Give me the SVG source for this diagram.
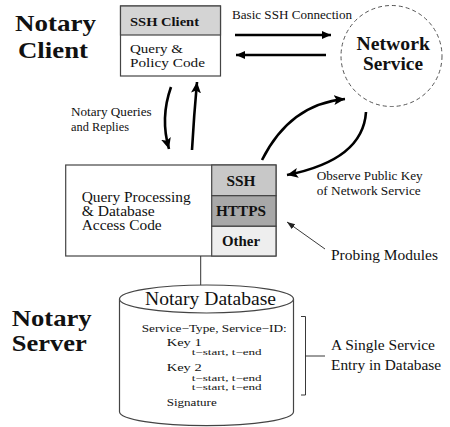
<svg xmlns="http://www.w3.org/2000/svg" width="450" height="427" viewBox="0 0 450 427">
<style>
text{font-family:"Liberation Serif","Times New Roman",serif;fill:#111}
.b{font-weight:bold}
.box{stroke:#444;stroke-width:1.2}
.arr{fill:none;stroke:#000;stroke-width:2.6}
.thin{fill:none;stroke:#222;stroke-width:0.9}
</style>
<defs>
<marker id="ah" markerUnits="userSpaceOnUse" markerWidth="14" markerHeight="12" refX="11" refY="5" orient="auto">
<path d="M0,0 L11,5 L0,10 L2.5,5 Z" fill="#000"/>
</marker>
<marker id="ahs" markerUnits="userSpaceOnUse" markerWidth="12" markerHeight="10" refX="9" refY="4" orient="auto">
<path d="M0,0 L9,4 L0,8 Z" fill="#000"/>
</marker>
<marker id="aht" markerUnits="userSpaceOnUse" markerWidth="10" markerHeight="8" refX="8" refY="3" orient="auto">
<path d="M0,0 L8,3 L0,6 Z" fill="#222"/>
</marker>
</defs>
<rect width="450" height="427" fill="#fff"/>

<g id="label-client">
<text class="b" x="15" y="31" font-size="24" textLength="81" lengthAdjust="spacingAndGlyphs">Notary</text>
<text class="b" x="18" y="58" font-size="24" textLength="70" lengthAdjust="spacingAndGlyphs">Client</text>
</g>

<g id="notary-client">
<rect class="box" x="120.5" y="6" width="100" height="70" fill="#fff"/>
<rect class="box" x="120.5" y="6" width="100" height="29" fill="#d4d4d4"/>
<text class="b" x="130" y="25.5" font-size="13.5" textLength="69" lengthAdjust="spacingAndGlyphs">SSH Client</text>
<text x="130" y="53" font-size="13" textLength="53" lengthAdjust="spacingAndGlyphs">Query &amp;</text>
<text x="130" y="66.5" font-size="13" textLength="75" lengthAdjust="spacingAndGlyphs">Policy Code</text>
</g>

<g id="network-service">
<circle cx="391.5" cy="56" r="50.5" fill="none" stroke="#555" stroke-width="1" stroke-dasharray="4,3"/>
<text class="b" x="356.5" y="50" font-size="18.5" textLength="73.5" lengthAdjust="spacingAndGlyphs">Network</text>
<text class="b" x="363" y="70" font-size="18.5" textLength="60" lengthAdjust="spacingAndGlyphs">Service</text>
</g>

<g id="query-processing">
<rect class="box" x="65.7" y="165" width="210.3" height="91" fill="#fff"/>
<rect class="box" x="211.7" y="165" width="64.3" height="30.7" fill="#c8c8c8"/>
<rect class="box" x="211.7" y="195.7" width="64.3" height="30.6" fill="#a8a8a8"/>
<rect class="box" x="211.7" y="226.3" width="64.3" height="29.7" fill="#eeeeee"/>
<text x="81.7" y="201.5" font-size="14" textLength="109" lengthAdjust="spacingAndGlyphs">Query Processing</text>
<text x="81.7" y="215.5" font-size="14" textLength="73" lengthAdjust="spacingAndGlyphs">&amp; Database</text>
<text x="81.7" y="230" font-size="14" textLength="80" lengthAdjust="spacingAndGlyphs">Access Code</text>
<text class="b" x="241" y="185.7" font-size="14" text-anchor="middle" textLength="29" lengthAdjust="spacingAndGlyphs">SSH</text>
<text class="b" x="241" y="216" font-size="14" text-anchor="middle" textLength="50" lengthAdjust="spacingAndGlyphs">HTTPS</text>
<text class="b" x="241" y="246" font-size="14" text-anchor="middle" textLength="38" lengthAdjust="spacingAndGlyphs">Other</text>
</g>

<g id="notary-database">
<path class="box" d="M119.5,299 V411.7 A87,14 0 0 0 293.5,411.7 V299" fill="#fff"/>
<ellipse class="box" cx="206.5" cy="299" rx="87" ry="14" fill="#fff"/>
<text x="145" y="305" font-size="18.5" textLength="131" lengthAdjust="spacingAndGlyphs">Notary Database</text>
<text x="141.7" y="331.5" font-size="11" textLength="145" lengthAdjust="spacingAndGlyphs">Service−Type, Service−ID:</text>
<text x="166.7" y="346" font-size="11" textLength="35" lengthAdjust="spacingAndGlyphs">Key 1</text>
<text x="191.7" y="354.5" font-size="9" textLength="70" lengthAdjust="spacingAndGlyphs">t−start, t−end</text>
<text x="166.7" y="371" font-size="11" textLength="35" lengthAdjust="spacingAndGlyphs">Key 2</text>
<text x="191.7" y="381.3" font-size="9" textLength="70" lengthAdjust="spacingAndGlyphs">t−start, t−end</text>
<text x="191.7" y="389.9" font-size="9" textLength="70" lengthAdjust="spacingAndGlyphs">t−start, t−end</text>
<text x="166.7" y="406" font-size="11" textLength="50" lengthAdjust="spacingAndGlyphs">Signature</text>
</g>

<g id="label-server">
<text class="b" x="11.7" y="326" font-size="22.5" textLength="80" lengthAdjust="spacingAndGlyphs">Notary</text>
<text class="b" x="11.7" y="351" font-size="22.5" textLength="75" lengthAdjust="spacingAndGlyphs">Server</text>
</g>

<g id="connectors">
<line x1="235" y1="35" x2="331" y2="35" class="arr" stroke-width="2.4" marker-end="url(#ahs)"/>
<line x1="326" y1="55" x2="236" y2="55" class="arr" stroke-width="2.4" marker-end="url(#ahs)"/>
<path class="arr" d="M171,87 Q160,118 169,149" marker-end="url(#ah)"/>
<path class="arr" d="M192,150 Q194,115 197,82" marker-end="url(#ah)"/>
<path class="arr" d="M262,160 Q290,104 345,99" marker-end="url(#ah)"/>
<path class="arr" d="M366,112 Q363,160 287,175" marker-end="url(#ah)"/>
<path class="thin" d="M325,249 L287,222" marker-end="url(#aht)"/>
<line x1="200.7" y1="256" x2="200.7" y2="285" stroke="#333" stroke-width="1"/>
<path class="thin" d="M301,316.5 H305.5 V395 H301 M305.5,356 H325" stroke="#333" stroke-width="1.1"/>
</g>

<g id="labels">
<text x="232" y="19" font-size="12" textLength="120" lengthAdjust="spacingAndGlyphs">Basic SSH Connection</text>
<text x="71" y="116" font-size="12" textLength="80.7" lengthAdjust="spacingAndGlyphs">Notary Queries</text>
<text x="71" y="130.5" font-size="12" textLength="58" lengthAdjust="spacingAndGlyphs">and Replies</text>
<text x="316.7" y="180" font-size="12" textLength="106" lengthAdjust="spacingAndGlyphs">Observe Public Key</text>
<text x="316.7" y="195" font-size="12" textLength="104" lengthAdjust="spacingAndGlyphs">of Network Service</text>
<text x="331" y="260" font-size="14.5" textLength="107" lengthAdjust="spacingAndGlyphs">Probing Modules</text>
<text x="331" y="350" font-size="14.5" textLength="104" lengthAdjust="spacingAndGlyphs">A Single Service</text>
<text x="331" y="369.5" font-size="14.5" textLength="110" lengthAdjust="spacingAndGlyphs">Entry in Database</text>
</g>
</svg>
